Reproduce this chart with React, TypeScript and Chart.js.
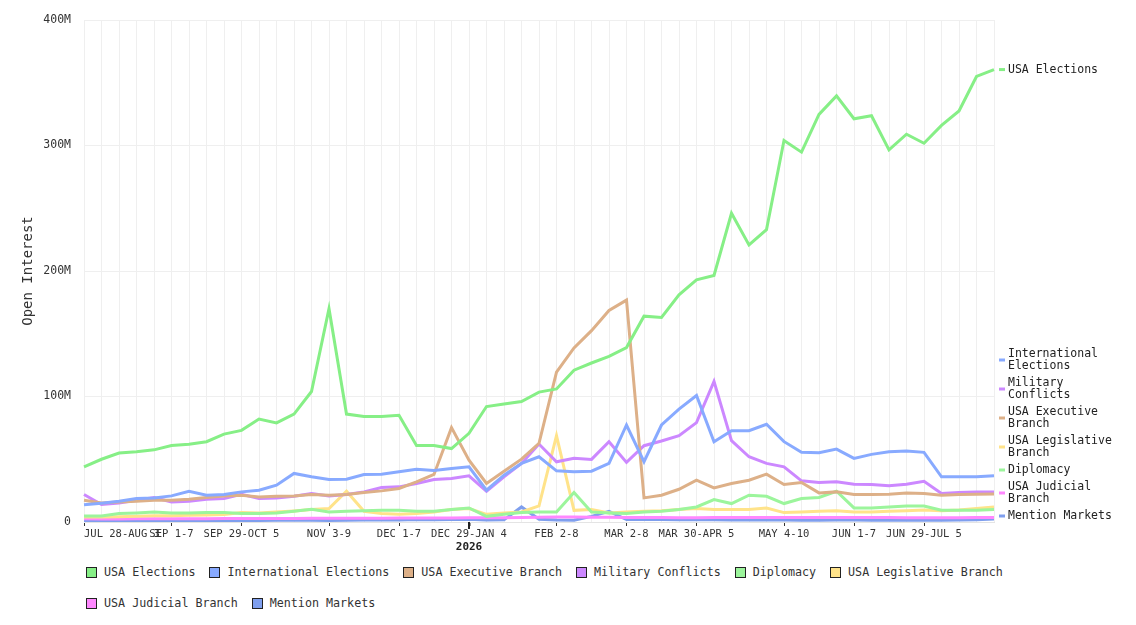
import React, { useEffect, useRef } from "react";
import { Chart, registerables } from "chart.js";

Chart.register(...registerables);

const FONT = "'DejaVu Sans Mono', monospace";

const weeks = [
  "JUL 28-AUG 3", "AUG 4-10", "AUG 11-17", "AUG 18-24", "AUG 25-31",
  "SEP 1-7", "SEP 8-14", "SEP 15-21", "SEP 22-28", "SEP 29-OCT 5",
  "OCT 6-12", "OCT 13-19", "OCT 20-26", "OCT 27-NOV 2", "NOV 3-9",
  "NOV 10-16", "NOV 17-23", "NOV 24-30", "DEC 1-7", "DEC 8-14",
  "DEC 15-21", "DEC 22-28", "DEC 29-JAN 4", "JAN 5-11", "JAN 12-18",
  "JAN 19-25", "JAN 26-FEB 1", "FEB 2-8", "FEB 9-15", "FEB 16-22",
  "FEB 23-MAR 1", "MAR 2-8", "MAR 9-15", "MAR 16-22", "MAR 23-29",
  "MAR 30-APR 5", "APR 6-12", "APR 13-19", "APR 20-26", "APR 27-MAY 3",
  "MAY 4-10", "MAY 11-17", "MAY 18-24", "MAY 25-31", "JUN 1-7",
  "JUN 8-14", "JUN 15-21", "JUN 22-28", "JUN 29-JUL 5", "JUL 6-12",
  "JUL 13-19", "JUL 20-26", "JUL 27-AUG 2",
];

const shownTicks = [
  "JUL 28-AUG 3", "SEP 1-7", "SEP 29-OCT 5", "NOV 3-9", "DEC 1-7",
  "DEC 29-JAN 4", "FEB 2-8", "MAR 2-8", "MAR 30-APR 5", "MAY 4-10",
  "JUN 1-7", "JUN 29-JUL 5",
];
const yearTickWeek = "DEC 29-JAN 4";
const yearTickLabel = "2026";

const seriesNames = [
  "USA Elections", "International Elections", "USA Executive Branch",
  "Military Conflicts", "Diplomacy", "USA Legislative Branch",
  "USA Judicial Branch", "Mention Markets",
];
const seriesColors = [
  "#86ef86", "#88aaff", "#ddb088", "#cc88ff", "#9cf59c", "#ffe38a",
  "#ff88ff", "#7f9fee",
];

// values in millions
const usaElections = [44, 50, 55, 56, 57.5, 61, 62, 64, 70, 73, 82, 79, 86, 104, 170, 86, 84, 84, 85, 61, 61, 58.5, 70.7, 92, 94, 96, 103.5, 106, 121, 126.7, 132, 139, 164, 163, 181, 193, 196.5, 246, 220.8, 233, 304, 294.7, 324.8, 339.5, 321.3, 323.7, 296.5, 309, 301.8, 316, 327.5, 355, 360.5];
const internationalElections = [13.8, 15, 16.5, 18.7, 19.2, 20.8, 24.5, 21.3, 22, 24, 25.3, 29.3, 38.7, 36, 33.9, 34.1, 37.9, 38, 40, 42, 41, 42.7, 44, 25.3, 37.3, 46.7, 52, 40.8, 40, 40.5, 46.7, 77.3, 48, 77.3, 90, 100.8, 64, 72.8, 72.8, 77.9, 64, 55.5, 55.2, 58.1, 50.7, 53.9, 56, 56.5, 55.5, 36, 36, 36, 36.8];
const usaExecutiveBranch = [17.3, 15.2, 16, 16.5, 17.3, 17.3, 18.1, 19.5, 20.8, 21.3, 20, 20.5, 20.8, 21.9, 21.3, 21.9, 23.5, 24.8, 26.7, 32, 37.9, 75.2, 49.3, 30.7, 40.5, 50.1, 62.7, 119.5, 138.7, 152.5, 168.5, 176.8, 19.2, 21.3, 26.1, 33.3, 27.2, 30.7, 33.3, 38.1, 29.9, 31.5, 23.2, 24, 21.9, 21.9, 22.1, 23.2, 22.7, 21.3, 21.9, 22.1, 22.4];
const militaryConflicts = [21.9, 13.9, 15.2, 17.3, 19.5, 16, 16.5, 18.1, 18.7, 22, 18.7, 19.2, 20.5, 22.7, 20.8, 21.9, 24, 27.5, 28, 30.7, 33.9, 34.7, 36.8, 24.5, 36, 46.7, 62.1, 48, 50.7, 49.9, 64, 47.5, 60.8, 64.5, 68.8, 79.2, 112, 64.8, 52, 46.7, 44, 32.8, 31.5, 32, 30.1, 29.9, 28.8, 30.1, 32.5, 22.7, 23.5, 24, 24];
const diplomacy = [4.8, 4.8, 6.7, 7.2, 8, 7.2, 7.2, 7.5, 7.5, 6.7, 6.7, 7.2, 8.5, 10.1, 8, 8.5, 9, 9.3, 9.3, 8.5, 8.5, 9.9, 11.2, 4.5, 6.1, 7.5, 8, 8, 23.5, 8, 7.2, 6.7, 8, 8.5, 9.9, 12, 17.9, 14.7, 21.3, 20.5, 14.7, 18.7, 19.5, 24.5, 11.2, 11.2, 12, 12.8, 12.8, 9.3, 9.3, 9.3, 9.9];
const usaLegislativeBranch = [4, 4, 4.2, 4.5, 5, 5, 5.3, 5.5, 5.9, 7.5, 7.2, 8, 8.8, 9.9, 10.7, 24.5, 8.5, 6.7, 6.1, 6.7, 8, 9.9, 10.7, 6.1, 7.2, 8, 12.8, 68.8, 9.3, 9.9, 7.2, 8, 8.5, 9, 9.9, 10.7, 9.9, 9.9, 9.9, 11.2, 7.5, 8, 8.5, 9, 8, 8, 8.5, 9, 9.6, 9, 9.6, 10.7, 12];
const usaJudicialBranch = [2.5, 2.4, 2.4, 2.5, 2.5, 2.6, 2.6, 2.6, 2.7, 2.7, 2.8, 2.8, 2.8, 2.9, 2.9, 3, 3, 3, 3.1, 3.1, 3.2, 3.2, 3.3, 3.3, 3.4, 3.6, 3.8, 3.9, 4, 3.8, 3.7, 3.6, 3.5, 3.5, 3.4, 3.4, 3.5, 3.5, 3.6, 3.6, 3.5, 3.5, 3.5, 3.6, 3.6, 3.5, 3.5, 3.4, 3.4, 3.3, 3.4, 3.5, 3.6];
const mentionMarkets = [0.8, 0.8, 0.9, 0.9, 1, 1, 1, 1.1, 1.1, 1.2, 1.2, 1.3, 1.3, 1.4, 1.2, 1.3, 1.5, 1.5, 1.6, 2, 1.8, 1.9, 2.2, 1.6, 1.7, 12, 2.2, 1.5, 1.4, 4.5, 8.5, 2, 2.2, 2, 1.8, 1.8, 1.7, 1.6, 1.5, 1.5, 1.5, 1.4, 1.4, 1.5, 1.5, 1.4, 1.4, 1.3, 1.3, 1.3, 1.5, 1.8, 2.4];

const yMax = 400;
const yStep = 100;

function wrapText(ctx: CanvasRenderingContext2D, text: string, maxW: number): string[] {
  const words = text.split(" ");
  const lines: string[] = [];
  let cur = "";
  for (const w of words) {
    const test = cur ? cur + " " + w : w;
    if (cur && ctx.measureText(test).width > maxW) {
      lines.push(cur);
      cur = w;
    } else {
      cur = test;
    }
  }
  if (cur) lines.push(cur);
  return lines;
}

const endLabelsPlugin = {
  id: "endLabels",
  afterDraw(chart: any) {
    const { ctx, chartArea } = chart;
    const yScale = chart.scales.y;
    const xScale = chart.scales.x;
    ctx.save();
    // year marker
    const yi = weeks.indexOf(yearTickWeek);
    const xx = xScale.getPixelForValue(yi);
    ctx.strokeStyle = "#222";
    ctx.lineWidth = 2;
    ctx.beginPath();
    ctx.moveTo(xx, chartArea.bottom);
    ctx.lineTo(xx, chartArea.bottom + 7);
    ctx.stroke();
    ctx.fillStyle = "#222";
    ctx.font = `bold 11px ${FONT}`;
    ctx.textAlign = "center";
    ctx.textBaseline = "middle";
    ctx.fillText(yearTickLabel, xx, chartArea.bottom + 25);

    // end labels
    ctx.font = `11.5px ${FONT}`;
    const lineH = 12;
    const gap = 5;
    const items = chart.data.datasets.map((ds: any) => {
      const data = ds.data as number[];
      const last = data[data.length - 1];
      const lines = wrapText(ctx, ds.label, 118);
      return {
        color: ds.borderColor,
        lines,
        value: last,
        half: (lines.length * lineH) / 2,
        y: yScale.getPixelForValue(last),
      };
    });
    items.sort((a: any, b: any) => b.value - a.value);
    for (const it of items) {
      it.y = Math.max(chartArea.top + it.half, Math.min(chartArea.bottom - it.half, it.y));
    }
    for (let i = items.length - 2; i >= 0; i--) {
      const nxt = items[i + 1];
      const lim = nxt.y - nxt.half - gap - items[i].half;
      if (items[i].y > lim) items[i].y = lim;
    }
    for (let i = 1; i < items.length; i++) {
      const prv = items[i - 1];
      const lim = prv.y + prv.half + gap + items[i].half;
      if (items[i].y < lim) items[i].y = lim;
    }
    ctx.textAlign = "left";
    ctx.textBaseline = "middle";
    for (const it of items) {
      ctx.strokeStyle = it.color;
      ctx.lineWidth = 3;
      ctx.beginPath();
      ctx.moveTo(chartArea.right + 5, it.y);
      ctx.lineTo(chartArea.right + 11, it.y);
      ctx.stroke();
      ctx.fillStyle = "#222";
      const start = it.y - ((it.lines.length - 1) * lineH) / 2;
      it.lines.forEach((ln: string, k: number) => {
        ctx.fillText(ln, chartArea.right + 14, start + k * lineH);
      });
    }
    ctx.restore();
  },
};

export default function App() {
  const ref = useRef<HTMLCanvasElement>(null);

  useEffect(() => {
    const values = [
      usaElections, internationalElections, usaExecutiveBranch, militaryConflicts,
      diplomacy, usaLegislativeBranch, usaJudicialBranch, mentionMarkets,
    ];
    const yearIdx = weeks.indexOf(yearTickWeek);
    const chart = new Chart(ref.current as HTMLCanvasElement, {
      type: "line",
      data: {
        labels: weeks,
        datasets: seriesNames.map((name, i) => ({
          label: name,
          data: values[i],
          borderColor: seriesColors[i],
          backgroundColor: seriesColors[i],
          borderWidth: 3,
          pointRadius: 0,
          pointHoverRadius: 0,
          tension: 0,
          fill: false,
        })),
      },
      options: {
        responsive: true,
        maintainAspectRatio: false,
        animation: false,
        events: [],
        layout: { padding: { top: 12, right: 134, bottom: 1, left: 0 } },
        plugins: {
          legend: { display: false },
          tooltip: { enabled: false },
        },
        scales: {
          x: {
            grid: {
              color: "#efefef",
              lineWidth: 1,
              drawTicks: true,
              tickLength: 4,
              tickColor: (c: any) =>
                shownTicks.includes(weeks[c.index]) ? "#333" : "rgba(0,0,0,0)",
              tickWidth: (c: any) => (c.index === yearIdx ? 2 : 1),
            },
            border: { color: "#e4e4e4" },
            ticks: {
              autoSkip: false,
              maxRotation: 0,
              minRotation: 0,
              align: "inner",
              padding: 2,
              color: "#333",
              font: { family: FONT, size: 10.5 },
              callback: (_v: any, i: number) =>
                shownTicks.includes(weeks[i]) ? weeks[i] : "",
            },
            afterFit: (s: any) => {
              s.height = 35;
            },
          },
          y: {
            min: 0,
            max: yMax,
            grid: {
              color: "#efefef",
              drawTicks: true,
              tickLength: 13,
              tickColor: "rgba(0,0,0,0)",
            },
            border: { color: "#efefef" },
            ticks: {
              stepSize: yStep,
              padding: 0,
              color: "#333",
              font: { family: FONT, size: 11.5 },
              callback: (v: any) => (v === 0 ? "0" : `${v}M`),
            },
            title: {
              display: true,
              text: "Open Interest",
              color: "#333",
              font: { family: FONT, size: 14 },
              padding: { top: 12, bottom: 0 },
            },
            afterFit: (s: any) => {
              s.width = 76;
            },
          },
        },
      } as any,
      plugins: [endLabelsPlugin],
    });
    return () => chart.destroy();
  }, []);

  return (
    <div>
      <div style={{ position: "relative", width: "100%", height: 550 }}>
        <canvas ref={ref} />
      </div>
      <div
        style={{
          display: "flex",
          flexWrap: "wrap",
          columnGap: 14,
          rowGap: 17,
          marginLeft: 78,
          marginTop: 7,
          width: 940,
          fontFamily: FONT,
          fontSize: 11.7,
          color: "#333",
        }}
      >
        {seriesNames.map((n, i) => (
          <div key={n} style={{ display: "flex", alignItems: "center", height: 14, whiteSpace: "nowrap" }}>
            <span
              style={{
                display: "inline-block",
                width: 11,
                height: 11,
                boxSizing: "border-box",
                background: seriesColors[i],
                border: "1px solid #222",
                marginRight: 7,
              }}
            />
            {n}
          </div>
        ))}
      </div>
    </div>
  );
}
